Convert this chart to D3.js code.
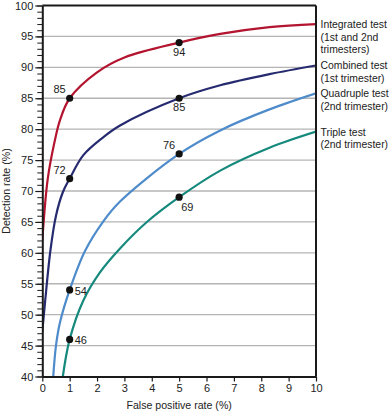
<!DOCTYPE html>
<html>
<head>
<meta charset="utf-8">
<script src="https://cdn.jsdelivr.net/npm/d3@7"></script>
<style>
  body { margin: 0; background: #fff; }
  svg { display: block; font-family: "Liberation Sans", Arial, sans-serif; }
</style>
</head>
<body>
<svg id="chart"></svg>
<script>
// values
const falsePositive = {
  integrated: [0, 0.2, 0.45, 0.65, 1, 2, 3, 5, 6.5, 8.3, 10],
  combined:   [0, 0.1, 0.3, 0.5, 0.75, 1, 1.5, 2.2, 2.84, 5, 6.5, 8.3, 10],
  quadruple:  [0.4, 0.5, 0.65, 1, 1.56, 2.23, 2.84, 5, 6.5, 8.3, 10],
  triple:     [0.75, 1, 1.5, 2.1, 2.84, 3.8, 5, 6.5, 8.3, 10]
};
const detection = {
  integrated: [62, 72, 78, 81.5, 85, 89.2, 91.6, 94, 95.4, 96.5, 97],
  combined:   [47.3, 52, 60.5, 66, 69.8, 72, 75.8, 78.6, 80.6, 85, 87.1, 88.9, 90.3],
  quadruple:  [40, 45, 48.8, 54, 60.3, 65.1, 68.3, 76, 79.8, 83.2, 85.8],
  triple:     [40, 46, 52.3, 56.8, 60.7, 64.9, 69, 73.3, 77, 79.6]
};
const seriesKeys = ["integrated", "combined", "quadruple", "triple"];
const seriesLabels = [
  ["Integrated test", "(1st and 2nd", "trimesters)"],
  ["Combined test", "(1st trimester)"],
  ["Quadruple test", "(2nd trimester)"],
  ["Triple test", "(2nd trimester)"]
];
const seriesColors = ["#b3142f", "#262b70", "#4d8bcb", "#16897d"];

// marked points
const markedX = [1, 5, 1, 5, 1, 5, 1, 5];
const markedY = [85, 94, 72, 85, 54, 76, 46, 69];
const markedPlace = ["upleft", "below", "upleft", "below", "right", "upleft", "right", "belowright"];

const xTicks = d3.range(0, 11, 1);
const yMajorTicks = d3.range(40, 101, 5);
const yMinorTicks = d3.range(40, 101, 1);

const width = 391, height = 412;
const margin = { top: 5.5, right: 75, bottom: 35.5, left: 42.3 };

const svg = d3.select("#chart").attr("width", width).attr("height", height);

const x = d3.scaleLinear().domain([0, 10]).range([margin.left, width - margin.right]);
const y = d3.scaleLinear().domain([40, 100]).range([height - margin.bottom, margin.top]);

// grid
svg.append("g")
  .selectAll("line")
  .data(yMajorTicks.filter(d => d > 40 && d < 100))
  .join("line")
  .attr("x1", x(0)).attr("x2", x(10))
  .attr("y1", d => y(d)).attr("y2", d => y(d))
  .attr("stroke", "#b4b4b4")
  .attr("stroke-width", 1.3);

// curves
svg.append("clipPath").attr("id", "plotclip")
  .append("rect")
  .attr("x", x(0)).attr("y", y(100))
  .attr("width", x(10) - x(0)).attr("height", y(40) - y(100));

const line = d3.line()
  .x(d => x(d[0]))
  .y(d => y(d[1]))
  .curve(d3.curveCatmullRom.alpha(0.5));

seriesKeys.forEach((k, i) => {
  const pts = falsePositive[k].map((v, j) => [v, detection[k][j]]);
  svg.append("path")
    .datum(pts)
    .attr("clip-path", "url(#plotclip)")
    .attr("fill", "none")
    .attr("stroke", seriesColors[i])
    .attr("stroke-width", 2.2)
    .attr("stroke-linejoin", "round")
    .attr("stroke-linecap", "round")
    .attr("d", line);
});

// frame top / right
svg.append("line")
  .attr("x1", x(0)).attr("x2", x(10))
  .attr("y1", y(100)).attr("y2", y(100))
  .attr("stroke", "#1a1a1a").attr("stroke-width", 2);
svg.append("line")
  .attr("x1", x(10)).attr("x2", x(10))
  .attr("y1", y(100)).attr("y2", y(40))
  .attr("stroke", "#1a1a1a").attr("stroke-width", 2);

// y axis: minor + major
svg.append("g")
  .attr("transform", `translate(${x(0)},0)`)
  .call(d3.axisLeft(y).tickValues(yMinorTicks).tickSize(5).tickFormat(""))
  .call(g => g.select(".domain").remove())
  .call(g => g.selectAll("line").attr("stroke", "#1a1a1a").attr("stroke-width", 1));

svg.append("g")
  .attr("transform", `translate(${x(0)},0)`)
  .call(d3.axisLeft(y).tickValues(yMajorTicks).tickSize(7).tickPadding(2).tickSizeOuter(0))
  .call(g => g.select(".domain").attr("stroke", "#1a1a1a").attr("stroke-width", 2))
  .call(g => g.selectAll(".tick line").attr("stroke", "#1a1a1a").attr("stroke-width", 1.2))
  .call(g => g.selectAll("text").attr("font-size", 11).attr("fill", "#222")
    .attr("font-family", "Liberation Sans, Arial, sans-serif"));

// x axis
svg.append("g")
  .attr("transform", `translate(0,${y(40)})`)
  .call(d3.axisBottom(x).tickValues(xTicks).tickSize(5).tickPadding(3).tickSizeOuter(0))
  .call(g => g.select(".domain").attr("stroke", "#1a1a1a").attr("stroke-width", 2))
  .call(g => g.selectAll(".tick line").attr("stroke", "#1a1a1a").attr("stroke-width", 1.2))
  .call(g => g.selectAll("text").attr("font-size", 11).attr("fill", "#222")
    .attr("font-family", "Liberation Sans, Arial, sans-serif"));

// axis titles
svg.append("text")
  .attr("x", (x(0) + x(10)) / 2)
  .attr("y", 409)
  .attr("text-anchor", "middle")
  .attr("font-size", 10.6)
  .attr("fill", "#222")
  .text("False positive rate (%)");

svg.append("text")
  .attr("transform", `translate(10,${(y(40) + y(100)) / 2}) rotate(-90)`)
  .attr("text-anchor", "middle")
  .attr("font-size", 10.6)
  .attr("fill", "#222")
  .text("Detection rate (%)");

// marked points
const offsets = {
  upleft: { dx: -4, dy: -5, anchor: "end" },
  below: { dx: 0, dy: 13, anchor: "middle" },
  right: { dx: 5, dy: 5, anchor: "start" },
  belowright: { dx: 2, dy: 14, anchor: "start" }
};
markedX.forEach((mx, i) => {
  const px = x(mx), py = y(markedY[i]);
  svg.append("circle")
    .attr("cx", px).attr("cy", py).attr("r", 3.6)
    .attr("fill", "#111");
  const o = offsets[markedPlace[i]];
  svg.append("text")
    .attr("x", px + o.dx).attr("y", py + o.dy)
    .attr("text-anchor", o.anchor)
    .attr("font-size", 11)
    .attr("fill", "#222")
    .text(markedY[i]);
});

// legend labels at curve ends
seriesKeys.forEach((k, i) => {
  const endY = y(detection[k][detection[k].length - 1]);
  const t = svg.append("text")
    .attr("x", x(10) + 4.5)
    .attr("y", endY + 4)
    .attr("font-size", 10.4)
    .attr("fill", "#222");
  seriesLabels[i].forEach((s, j) => {
    t.append("tspan")
      .attr("x", x(10) + 4.5)
      .attr("dy", j === 0 ? 0 : 12.6)
      .text(s);
  });
});
</script>
</body>
</html>
